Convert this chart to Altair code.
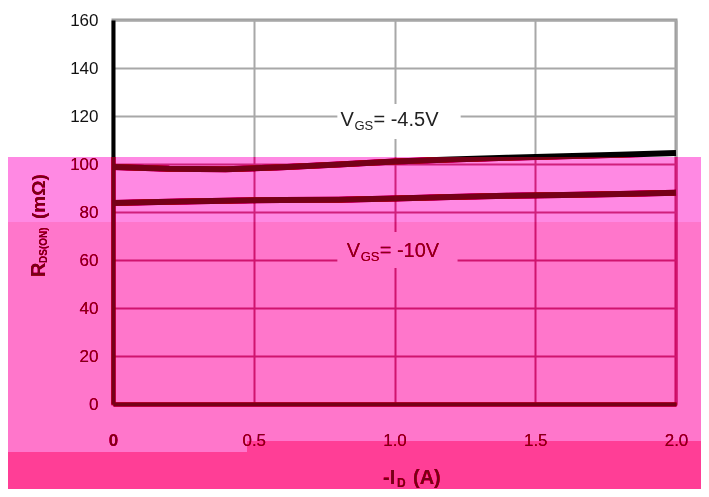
import altair as alt
import pandas as pd

# ---- data ----
id_amps = [0.0, 0.2, 0.4, 0.6, 0.8, 1.0, 1.2, 1.4, 1.6, 1.8, 2.0]
rds_vgs_4v5 = [98.8, 98.0, 97.8, 98.6, 99.8, 101.0, 101.9, 102.6, 103.2, 103.9, 104.6]
rds_vgs_10v = [83.7, 84.3, 84.7, 85.0, 85.1, 85.6, 86.2, 86.8, 87.1, 87.5, 88.0]
series_names = ["VGS = -4.5V", "VGS = -10V"]
x_ticks = [0, 0.5, 1.0, 1.5, 2.0]
y_ticks = [0, 20, 40, 60, 80, 100, 120, 140, 160]

# series label annotations (data coordinates)
label_main = ["V", "V"]
label_sub = ["GS", "GS"]
label_rest = ["= -4.5V", "= -10V"]
label_x = [0.808, 0.83]
label_y = [115.8, 61.3]
# white gaps in the grid behind the labels (data coordinates)
gap_x1 = [0.797, 0.797]
gap_x2 = [1.235, 1.224]
gap_y1 = [110.4, 56.7]
gap_y2 = [125.0, 71.7]

rows = []
for name, vals in zip(series_names, [rds_vgs_4v5, rds_vgs_10v]):
    for xv, yv in zip(id_amps, vals):
        rows.append({"id": xv, "rds": yv, "series": name})
lines_df = pd.DataFrame(rows)
labels_df = pd.DataFrame({"x": label_x, "y": label_y, "main": label_main,
                          "sub": label_sub, "rest": label_rest})
gaps_df = pd.DataFrame({"x1": gap_x1, "x2": gap_x2, "y1": gap_y1, "y2": gap_y2})
one = pd.DataFrame({"k": [0]})

FONT = "Liberation Sans"
xscale = alt.Scale(domain=[0, 2], nice=False, zero=False)
yscale = alt.Scale(domain=[0, 160], nice=False, zero=True)

xaxis = alt.Axis(values=x_ticks, grid=True, gridColor="#a8a8a8", gridWidth=2,
                 domainColor="black", domainWidth=4, ticks=False, tickSize=0,
                 labelFont=FONT, labelFontSize=17, labelColor="#111111",
                 labelPadding=28, labelFlush=False,
                 labelExpr="datum.value == 0 ? '0' : format(datum.value, '.1f')",
                 labelFontWeight=alt.condition("datum.value == 0", alt.value("bold"), alt.value("normal")),
                 title=None, zindex=0)
yaxis = alt.Axis(values=y_ticks, grid=True, gridColor="#a8a8a8", gridWidth=2,
                 domainColor="black", domainWidth=4, ticks=False, tickSize=0,
                 labelFont=FONT, labelFontSize=17, labelColor="#111111",
                 labelPadding=15, title=None, zindex=0)

gaps = alt.Chart(gaps_df).mark_rect(color="white").encode(
    x=alt.X("x1:Q", scale=xscale, axis=xaxis), x2="x2:Q",
    y=alt.Y("y1:Q", scale=yscale, axis=yaxis), y2="y2:Q")

lines = alt.Chart(lines_df).mark_line(color="black", strokeWidth=6, strokeCap="butt").encode(
    x=alt.X("id:Q", scale=xscale, axis=xaxis),
    y=alt.Y("rds:Q", scale=yscale, axis=yaxis),
    detail="series:N")

def lbl(field, size, dx, dy=0):
    return alt.Chart(labels_df).mark_text(font=FONT, fontSize=size, color="#222222",
                                          align="left", baseline="alphabetic", dx=dx, dy=dy).encode(
        x=alt.X("x:Q", scale=xscale), y=alt.Y("y:Q", scale=yscale), text=f"{field}:N")

lab_main = lbl("main", 20, 0)
lab_sub = lbl("sub", 13, 14, 4)
lab_rest = lbl("rest", 20, 33)

def txt(text, size, x, y, angle=0, weight="bold"):
    return alt.Chart(one).mark_text(text=text, font=FONT, fontSize=size, fontWeight=weight,
                                    color="black", align="left", baseline="alphabetic",
                                    angle=angle).encode(x=alt.value(x), y=alt.value(y))

ytitle = [txt("R", 20, -68, 257, 270), txt("DS(ON)", 10, -66, 243, 270),
          txt("(mΩ)", 19, -68, 199, 270)]
xtitle = [txt("-I", 20, 270, 464), txt("D", 12, 284, 467), txt("(A)", 20, 300, 464)]

def band(x1, x2, y1, y2, color, blend):
    return alt.Chart(one).mark_rect(color=color, blend=blend).encode(
        x=alt.value(x1), x2=alt.value(x2), y=alt.value(y1), y2=alt.value(y2))

overlay = [
    band(-105, 588, 137, 202, "#ffb8e9", "multiply"),
    band(-105, 134, 202, 432, "#ffadd7", "multiply"),
    band(134, 588, 202, 421, "#ffadd7", "multiply"),
    band(-105, 134, 432, 469, "#ff8bad", "multiply"),
    band(134, 588, 421, 469, "#ff8bad", "multiply"),
    band(-105, 588, 137, 469, "#ff99b4", "color-burn"),
    band(-105, 588, 137, 469, "#760018", "screen"),
]

chart = alt.layer(gaps, lines, lab_main, lab_sub, lab_rest, *ytitle, *xtitle, *overlay).properties(
    width=563, height=384,
    autosize=alt.AutoSizeParams(type="none"),
    padding={"left": 105, "top": 12, "right": 25, "bottom": 85},
    background="white",
).configure_view(stroke="#999999", strokeWidth=3)

chart.save("out.html", embed_options={"renderer": "svg", "actions": False})
